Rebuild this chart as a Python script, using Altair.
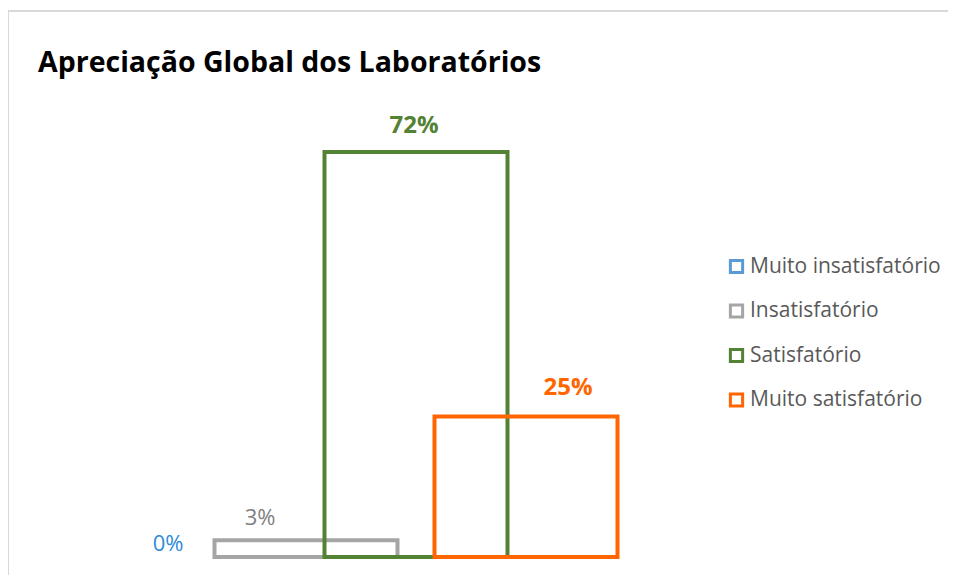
import altair as alt
import pandas as pd

categories = ["Muito insatisfatório", "Insatisfatório", "Satisfatório", "Muito satisfatório"]
values = [0, 3, 72, 25]
labels = ["0%", "3%", "72%", "25%"]
bar_colors = ["#5B9BD5", "#A5A5A5", "#548235", "#FF6600"]
label_colors = ["#2F8BD8", "#7F7F7F", "#548235", "#FF6600"]
title_text = "Apreciação Global dos Laboratórios"

df = pd.DataFrame({"cat": categories, "val": values, "lab": labels})

FONT = "Open Sans"

x_enc = alt.X("cat:N", sort=categories, axis=None,
              scale=alt.Scale(domain=categories, paddingInner=0, paddingOuter=0.5))
y_enc = alt.Y("val:Q", axis=None, scale=alt.Scale(domain=[0, 80], nice=False))

bars = alt.Chart(df).transform_filter(alt.datum.val > 0).mark_bar(
    filled=False, strokeWidth=4, size=183).encode(
    x=x_enc,
    y=y_enc,
    color=alt.Color("cat:N", sort=categories,
                    scale=alt.Scale(domain=categories, range=bar_colors),
                    legend=alt.Legend(title=None, orient="none", legendX=640, legendY=149,
                                      symbolType="square", symbolSize=150,
                                      symbolStrokeWidth=3, symbolFillColor="white",
                                      labelFont=FONT, labelFontSize=21, labelColor="#595959",
                                      labelOffset=3, rowPadding=19.5, labelLimit=400)),
)

# label styling per category: (dx, dy, size, weight)
label_style = {
    "Muito insatisfatório": (-28, -6, 22, "normal"),
    "Insatisfatório": (-46, -15, 22, "normal"),
    "Satisfatório": (-2, -19, 24, "bold"),
    "Muito satisfatório": (42, -21, 24, "bold"),
}

layers = []
for cat, col in zip(categories, label_colors):
    dx, dy, fs, fw = label_style[cat]
    layers.append(
        alt.Chart(df).transform_filter(alt.datum.cat == cat).mark_text(
            font=FONT, fontSize=fs, fontWeight=fw, color=col, dx=dx, dy=dy,
            baseline="alphabetic", align="center"
        ).encode(x=x_enc, y=y_enc, text="lab:N")
    )

border_top = alt.Chart(df).mark_rule(color="#D9D9D9", strokeWidth=1.5).encode(
    x=alt.value(-79), x2=alt.value(870), y=alt.value(-96))
border_left = alt.Chart(df).mark_rule(color="#D9D9D9", strokeWidth=1.5).encode(
    x=alt.value(-78), y=alt.value(-96), y2=alt.value(470))
title = alt.Chart(pd.DataFrame({"t": [title_text]})).mark_text(
    font=FONT, fontSize=28.5, fontWeight="bold", color="#000000",
    align="left", baseline="alphabetic").encode(
    x=alt.value(-48), y=alt.value(-35), text="t:N")

chart = alt.layer(border_top, border_left, title, bars, *layers).properties(
    width=550, height=450,
    autosize=alt.AutoSizeParams(type="none"),
    padding={"left": 78, "top": 99, "right": 312, "bottom": 18},
    background="white",
).configure_view(stroke=None)

chart.save("out.html", embed_options={"renderer": "svg", "actions": False})
